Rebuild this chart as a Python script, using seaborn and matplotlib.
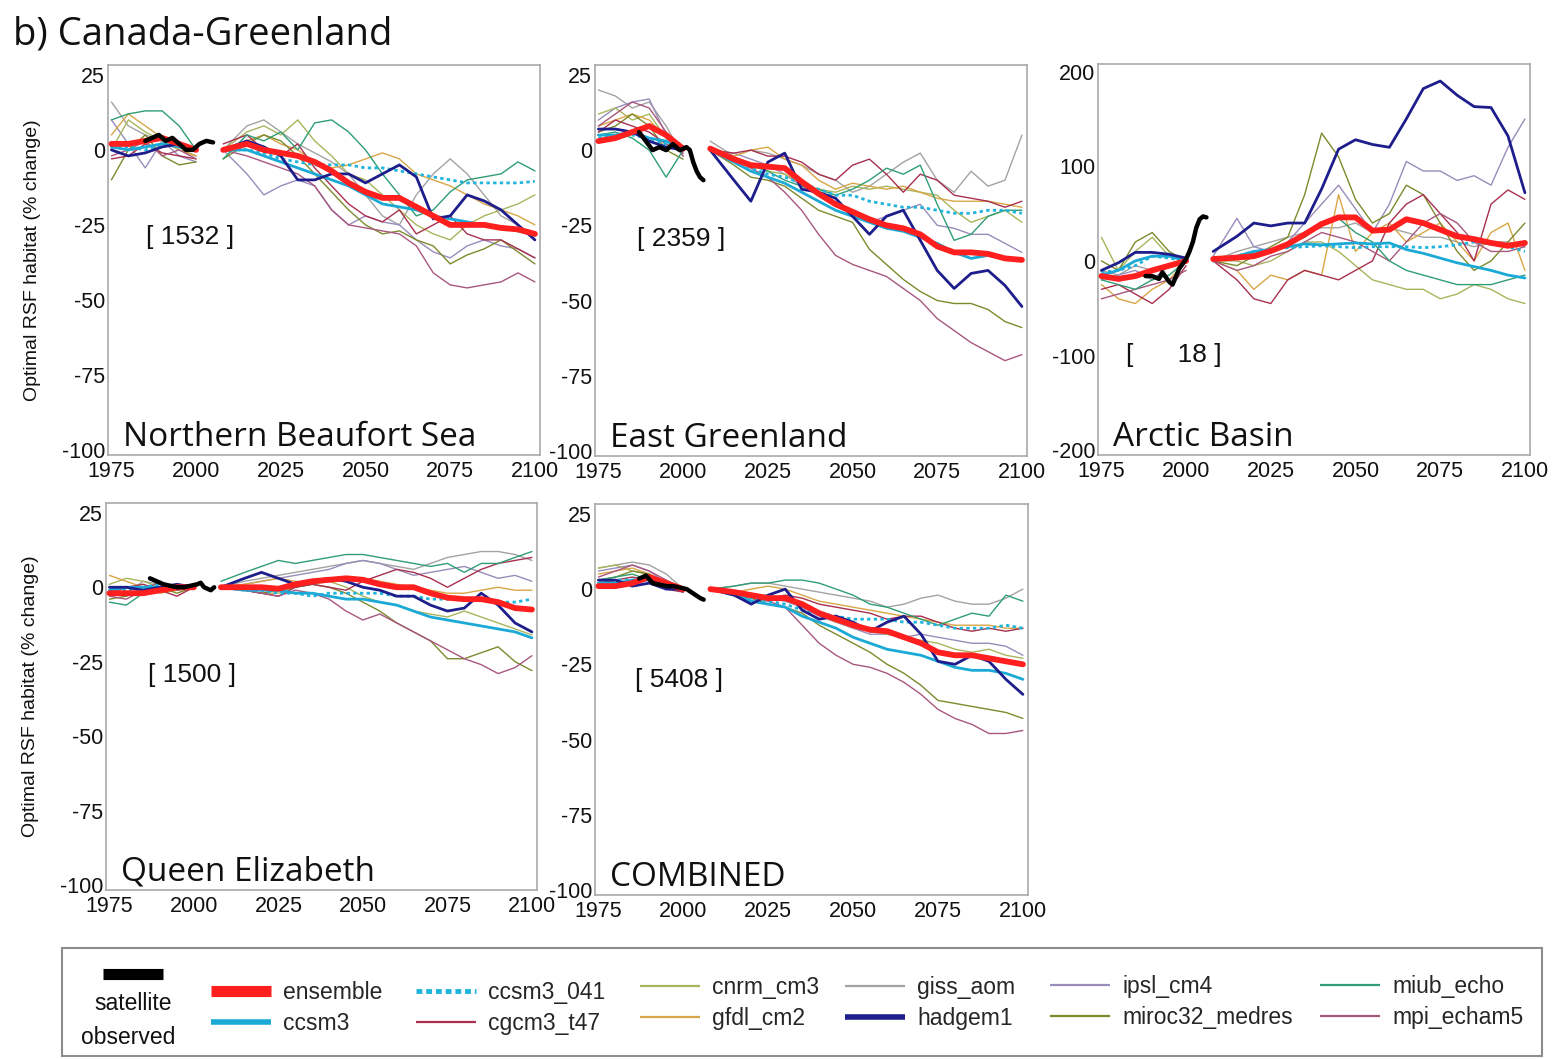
import matplotlib
matplotlib.use("Agg")
import matplotlib.pyplot as plt
from matplotlib.lines import Line2D
from matplotlib.patches import Rectangle
import seaborn as sns

sns.set_theme(style="white")
plt.rcParams["font.family"] = ["Liberation Sans", "DejaVu Sans"]
plt.rcParams["axes.unicode_minus"] = False

# ---------------------------------------------------------------------------
# data (% change in optimal RSF habitat)
# ---------------------------------------------------------------------------
hist_years = [1975, 1980, 1985, 1990, 1995, 2000]
proj_years = [2008, 2015, 2020, 2025, 2030, 2035, 2040, 2045, 2050, 2055,
              2060, 2065, 2070, 2075, 2080, 2085, 2090, 2095, 2100]

models = ["ensemble", "ccsm3", "ccsm3_041", "cgcm3_t47", "cnrm_cm3", "gfdl_cm2",
          "giss_aom", "hadgem1", "ipsl_cm4", "miroc32_medres", "miub_echo", "mpi_echam5"]

# Northern Beaufort Sea
nbs_hist = {
    "ensemble": [2, 2, 3, 4, 2, 0],
    "ccsm3": [1, 0, 1, 2, 1, 0],
    "ccsm3_041": [1, 1, 0, 2, 1, 0],
    "cgcm3_t47": [-3, -2, 2, -1, -2, -3],
    "cnrm_cm3": [0, 10, 6, 3, 0, -2],
    "gfdl_cm2": [5, 12, 8, 4, 0, -2],
    "giss_aom": [16, 8, 5, 3, 0, -2],
    "hadgem1": [0, -2, -1, 1, 2, 0],
    "ipsl_cm4": [10, 2, -6, 3, -2, -4],
    "miroc32_medres": [-10, 0, 5, -2, -5, -4],
    "miub_echo": [10, 12, 13, 13, 8, 0],
    "mpi_echam5": [-2, 0, 3, -2, 0, -3],
}
nbs_proj = {
    "ensemble": [0, 2, 0, -1, -2, -4, -7, -11, -14, -16, -16, -19, -22, -25, -25, -25, -26, -26.5, -28],
    "ccsm3": [0, 0, -2, -4, -6, -8, -10, -12, -15, -18, -19, -20, -22, -23, -24, -25, -26, -27, -28.5],
    "ccsm3_041": [0, 0, -1, -3, -4, -5, -5, -5, -6, -6, -7, -8, -9, -10, -11, -11, -11, -11, -10.5],
    "cgcm3_t47": [2, 5, 0, -2, 2, -6, -12, -18, -22, -24, -20, -28, -25, -22, -28, -30, -30, -33, -36],
    "cnrm_cm3": [0, 6, 8, 5, 10, 3, -2, -8, -10, -15, -20, -25, -28, -30, -25, -22, -20, -18, -15],
    "gfdl_cm2": [0, 3, 5, 2, 0, -4, -6, -5, -3, -1, -3, -8, -10, -12, -15, -18, -20, -22, -25],
    "giss_aom": [0, 8, 10, 6, 2, -1, -4, -8, -15, -22, -25, -15, -8, -3, -8, -15, -22, -25, -30],
    "hadgem1": [0, 3, 1, -2, -10, -10, -8, -8, -11, -8, -5, -9, -23, -22, -15, -17, -20, -25, -30],
    "ipsl_cm4": [0, -8, -15, -12, -10, -12, -20, -25, -22, -24, -25, -30, -34, -36, -32, -30, -32, -33, -36],
    "miroc32_medres": [-3, 2, 5, 3, -2, -8, -14, -20, -25, -28, -27, -30, -32, -38, -35, -33, -30, -34, -38],
    "miub_echo": [-3, 5, 3, 6, 0, 9, 10, 6, 0, -8, -15, -22, -20, -14, -10, -9, -8, -4, -7],
    "mpi_echam5": [0, -2, -4, -6, -8, -12, -20, -25, -26, -27, -28, -32, -41, -45, -46, -45, -44, -41, -44],
}
nbs_sat_years = [1985, 1987, 1989, 1991, 1993, 1995, 1997, 1999, 2001, 2003, 2005]
nbs_sat_vals = [3, 4, 5, 3, 4, 2, 0, 0, 2, 3, 2.5]

# East Greenland
eg_hist = {
    "ensemble": [3, 4, 6, 8, 5, 0.5],
    "ccsm3": [5, 5, 6, 4, 3, 0],
    "ccsm3_041": [4, 5, 5, 4, 2, 0],
    "cgcm3_t47": [6, 10, 8, 6, 2, -1],
    "cnrm_cm3": [12, 14, 10, 12, 4, 0],
    "gfdl_cm2": [8, 10, 12, 10, 4, 0],
    "giss_aom": [20, 18, 14, 16, 8, -2],
    "hadgem1": [7, 7, 6, 3, 1, 0],
    "ipsl_cm4": [10, 14, 16, 17, 5, 0],
    "miroc32_medres": [6, 8, 12, 8, 0, -3],
    "miub_echo": [5, 6, 4, 0, -9, 0],
    "mpi_echam5": [8, 12, 16, 14, 6, -2],
}
eg_proj = {
    "ensemble": [0.5, -3, -5, -5.5, -6, -10.5, -14.5, -18, -20.5, -23, -25, -26, -28, -32, -34, -34, -34.5, -36, -36.5],
    "ccsm3": [0, -4, -7, -9, -11, -14, -17, -20, -22, -24, -26, -27, -29, -31, -34, -36, -35, -36, -36],
    "ccsm3_041": [0, -3, -6, -8, -9, -11, -13, -15, -15, -17, -18, -19, -19, -20, -21, -21, -20, -20, -21],
    "cgcm3_t47": [0, -1, 0, -2, -2, -4, -8, -10, -5, -3, -8, -14, -8, -10, -15, -16, -17, -19, -17],
    "cnrm_cm3": [0, -3, -5, -7, -8, -11, -13, -14, -12, -13, -12, -13, -14, -15, -20, -24, -22, -20, -24],
    "gfdl_cm2": [0, -2, 0, 1, -3, -5, -10, -13, -11, -12, -13, -12, -14, -16, -17, -17, -17, -18, -19],
    "giss_aom": [3, -2, 0, -1, -3, -5, -8, -10, -14, -12, -8, -4, -1, -10, -14, -7, -12, -10, 5],
    "hadgem1": [0, -10, -17, -4, -1, -13, -14, -16, -22, -28, -22, -20, -30, -40, -46, -41, -40, -45, -52],
    "ipsl_cm4": [0, -1, -3, -5, -8, -12, -15, -18, -22, -24, -22, -20, -18, -25, -26, -28, -28, -31, -34],
    "miroc32_medres": [0, -5, -9, -10, -12, -16, -20, -22, -24, -33, -38, -43, -47, -50, -51, -51, -53, -57, -59],
    "miub_echo": [0, -3, -5, -7, -10, -12, -13, -15, -13, -10, -6, -8, -5, -18, -30, -28, -22, -20, -20],
    "mpi_echam5": [0, -3, -6, -9, -14, -20, -28, -35, -38, -40, -42, -46, -50, -56, -60, -64, -67, -70, -68],
}
eg_sat_years = [1987, 1989, 1991, 1993, 1995, 1997, 1999, 2001, 2002, 2003, 2004, 2005, 2006]
eg_sat_vals = [6, 3, 0, 1, 0, 2, 0, 1, 0, -4, -7, -9, -10]

# Arctic Basin
ab_hist = {
    "ensemble": [-16, -19, -16, -10, -5, 0],
    "ccsm3": [-15, -10, 0, 5, 5, 0],
    "ccsm3_041": [-12, -10, -5, 5, 3, 0],
    "cgcm3_t47": [-30, -25, -35, -45, -30, -5],
    "cnrm_cm3": [25, -10, 10, 25, 5, 0],
    "gfdl_cm2": [-25, -40, -45, -30, -20, 0],
    "giss_aom": [-10, -15, -5, -10, -5, 0],
    "hadgem1": [-10, -2, 9, 9, 7, 3],
    "ipsl_cm4": [-20, -15, -10, -20, -5, 0],
    "miroc32_medres": [0, -10, 20, 30, 10, 0],
    "miub_echo": [-20, -25, -30, -20, -15, 0],
    "mpi_echam5": [-40, -35, -30, -25, -20, -10],
}
ab_proj = {
    "ensemble": [2, 3.5, 5, 10.5, 17.6, 28, 39, 46, 46, 32, 33, 44, 40, 33, 26, 23, 19, 16, 19],
    "ccsm3": [0, 5, 10, 12, 15, 18, 17, 18, 19, 18, 19, 12, 8, 3, -2, -6, -10, -15, -18],
    "ccsm3_041": [0, 5, 10, 12, 14, 15, 16, 15, 14, 15, 15, 15, 14, 15, 17, 20, 18, 15, 10],
    "cgcm3_t47": [0, -20, -40, -45, -20, -10, -15, -20, -10, 0, 40, 60, 70, 50, 30, 0, 60, 75, 65],
    "cnrm_cm3": [0, 0, -5, 0, 10, 20, 20, 10, -5, -20, -25, -30, -30, -40, -35, -25, -30, -40, -45],
    "gfdl_cm2": [0, -10, -30, -15, -20, -10, -15, 70, 10, 30, 40, 20, 30, 40, 20, 0, 30, 40, -10],
    "giss_aom": [0, 10, 15, 20, 25, 30, 35, 35, 40, 30, 35, 30, 25, 25, 20, 15, 20, 20, 15],
    "hadgem1": [10, 26, 40, 37, 40, 40, 76, 118, 128, 123, 120, 150, 182, 190, 175, 163, 162, 132, 72],
    "ipsl_cm4": [5, 45, 15, 10, 20, 40, 60, 80, 55, 30, 60, 105, 95, 95, 85, 90, 80, 120, 150],
    "miroc32_medres": [0, -5, 5, 15, 25, 70, 135, 110, 65, 40, 50, 80, 70, 40, 10, -10, 0, 20, 40],
    "miub_echo": [0, 5, 8, 12, 18, 25, 40, 45, 30, 20, 0, -10, -15, -20, -25, -25, -25, -20, -15],
    "mpi_echam5": [0, -10, -5, 5, 10, 20, 30, 25, 20, 10, 0, 20, 40, 50, 40, 20, 10, 10, 15],
}
ab_sat_years = [1988, 1990, 1992, 1993, 1995, 1996, 1998, 2000, 2001, 2002, 2003, 2004, 2005, 2006]
ab_sat_vals = [-16, -16, -19, -12, -22, -25, -8, 2, 10, 20, 35, 44, 47, 46]

# Queen Elizabeth
qe_hist = {
    "ensemble": [-2, -2, -2, -1, 0, 0],
    "ccsm3": [-1, 0, 0, 0, 0, 0],
    "ccsm3_041": [0, -1, 0, 1, 0, 0],
    "cgcm3_t47": [-2, 0, 1, -1, -3, 0],
    "cnrm_cm3": [1, 3, 2, 0, -1, 0],
    "gfdl_cm2": [4, 2, 0, -2, -1, 0],
    "giss_aom": [0, -2, 2, 1, -1, 0],
    "hadgem1": [0, 0, -1, 0, 1, 0],
    "ipsl_cm4": [-2, -3, 0, 1, 0, 0],
    "miroc32_medres": [-4, -3, -1, 0, -2, 0],
    "miub_echo": [-5, -6, -2, -1, 0, 0],
    "mpi_echam5": [-3, -4, -1, 2, -1, 0],
}
qe_proj = {
    "ensemble": [0, 0, 0, -0.5, 1, 2, 2.5, 3, 2.5, 1, 0, 0, -2, -3.5, -4, -4, -5, -7, -7.5],
    "ccsm3": [0, -1, -1, -1, -2, -2, -3, -4, -4, -5, -6, -8, -10, -11, -12, -13, -14, -15, -17],
    "ccsm3_041": [0, -1, -1, -2, -2, -3, -2, -2, -2, -2, -3, -3, -4, -4, -4, -4, -5, -5, -4],
    "cgcm3_t47": [0, -1, -2, -3, 0, 1, 0, -1, 2, 4, 6, 5, 3, 0, 3, 6, 8, 9, 10],
    "cnrm_cm3": [0, -1, -2, -2, 0, 1, 2, 0, -3, -5, -6, -8, -9, -10, -8, -10, -12, -14, -16],
    "gfdl_cm2": [0, 1, 2, 3, 2, 1, 3, 2, 3, 2, 1, 0, -1, -2, -2, -1, 0, -1, -1],
    "giss_aom": [0, 2, 3, 4, 5, 6, 7, 8, 9, 8, 7, 6, 8, 10, 11, 12, 12, 11, 9],
    "hadgem1": [0, 3, 5, 3, 1, 2, 3, 2, 0, -1, -3, -3, -6, -8, -7, -2, -6, -12, -15],
    "ipsl_cm4": [0, 1, 2, 3, 4, 5, 6, 8, 9, 8, 6, 4, 5, 6, 7, 5, 3, 4, 2],
    "miroc32_medres": [0, -1, -2, -1, 0, 1, 0, -2, -5, -8, -12, -15, -18, -24, -24, -22, -20, -25, -28],
    "miub_echo": [2, 5, 7, 9, 8, 9, 10, 11, 11, 10, 9, 8, 7, 8, 5, 8, 8, 10, 12],
    "mpi_echam5": [0, -1, -2, -3, -1, -2, -4, -8, -11, -9, -12, -15, -18, -21, -24, -26, -29, -27, -23],
}
qe_sat_years = [1987, 1989, 1991, 1993, 1995, 1997, 1999, 2001, 2002, 2003, 2004, 2005, 2006]
qe_sat_vals = [3, 2, 1, 0.5, 0, 0, 0.5, 1, 1.5, 0, -0.5, -1, 0]

# COMBINED
cb_hist = {
    "ensemble": [1, 1, 2, 4, 2, 0],
    "ccsm3": [2, 2, 3, 3, 1, 0],
    "ccsm3_041": [2, 3, 3, 4, 1, 0],
    "cgcm3_t47": [2, 3, 4, 3, 0, -1],
    "cnrm_cm3": [7, 8, 6, 5, 2, 0],
    "gfdl_cm2": [5, 6, 7, 5, 2, 0],
    "giss_aom": [7, 8, 9, 8, 5, 0],
    "hadgem1": [3, 3, 1, 2, 0, 0],
    "ipsl_cm4": [6, 7, 8, 6, 2, -1],
    "miroc32_medres": [3, 4, 6, 5, 1, -1],
    "miub_echo": [3, 4, 5, 3, 0, 0],
    "mpi_echam5": [4, 6, 8, 6, 3, 0],
}
cb_proj = {
    "ensemble": [0, -1, -2, -3, -3, -5, -8, -10, -12, -13.5, -14, -16, -18, -21, -22, -22, -23, -24, -25],
    "ccsm3": [0, -2, -4, -5, -6, -9, -11, -13, -16, -18, -20, -21, -22, -24, -26, -27, -27, -28, -30],
    "ccsm3_041": [0, -2, -3, -4, -5, -7, -8, -9, -10, -10, -10, -11, -11, -12, -13, -13, -13, -12, -13],
    "cgcm3_t47": [0, -1, -2, -3, -2, -3, -5, -6, -7, -8, -10, -9, -9, -11, -13, -14, -13, -14, -13],
    "cnrm_cm3": [0, -1, -2, -2, -3, -5, -8, -11, -12, -14, -15, -16, -17, -18, -20, -21, -20, -22, -23],
    "gfdl_cm2": [0, -1, 0, 1, 0, -2, -4, -5, -6, -7, -8, -9, -10, -11, -12, -12, -12, -13, -13],
    "giss_aom": [0, 1, 2, 2, 1, 0, -1, -2, -3, -4, -6, -5, -3, -2, -4, -5, -5, -3, 0],
    "hadgem1": [0, -2, -5, -2, 0, -7, -10, -9, -11, -14, -11, -9, -15, -24, -25, -22, -24, -30, -35],
    "ipsl_cm4": [0, -1, -2, -3, -4, -6, -9, -11, -13, -15, -15, -16, -15, -16, -17, -18, -18, -19, -22],
    "miroc32_medres": [0, -2, -3, -5, -6, -8, -12, -15, -18, -21, -25, -28, -32, -37, -38, -39, -40, -41, -43],
    "miub_echo": [0, 1, 2, 2, 3, 3, 2, 0, -2, -5, -6, -8, -10, -12, -10, -8, -9, -2, -4],
    "mpi_echam5": [0, -2, -3, -4, -6, -12, -18, -22, -25, -26, -28, -31, -35, -40, -43, -45, -48, -48, -47],
}
cb_sat_years = [1987, 1989, 1991, 1993, 1995, 1997, 1999, 2001, 2003, 2005, 2006]
cb_sat_vals = [3.5, 4.5, 2, 1.5, 1, 1, 0.5, 0, -1.5, -3, -3.5]

# ---------------------------------------------------------------------------
# styles
# ---------------------------------------------------------------------------
colors = {
    "ensemble": "#ff1f1f", "ccsm3": "#1ba9d6", "ccsm3_041": "#1fb4dc",
    "cgcm3_t47": "#a8304e", "cnrm_cm3": "#a9b55c", "gfdl_cm2": "#d8a646",
    "giss_aom": "#a3a3a3", "hadgem1": "#1d1d8c", "ipsl_cm4": "#9a8cba",
    "miroc32_medres": "#7d8a2c", "miub_echo": "#2f9e74", "mpi_echam5": "#a8577f",
}
widths = {"ensemble": 4.2, "ccsm3": 2.0, "ccsm3_041": 2.0, "hadgem1": 2.0}
styles = {"ccsm3_041": (0, (1.2, 1.2))}
# thin models first, highlighted ones last
draw_order = ["giss_aom", "ipsl_cm4", "cnrm_cm3", "gfdl_cm2", "miroc32_medres",
              "cgcm3_t47", "mpi_echam5", "miub_echo", "ccsm3_041", "ccsm3",
              "hadgem1", "ensemble"]

W, H = 1552, 1059


def px_rect(l, t, r, b):
    return [l / W, 1 - b / H, (r - l) / W, (b - t) / H]


panels = [
    dict(rect=(108, 65, 540, 455), hist=nbs_hist, proj=nbs_proj, sy=nbs_sat_years, sv=nbs_sat_vals,
         name="Northern Beaufort Sea", count="[ 1532 ]", cpos=(0.19, 0.56), big=False, ylab=True),
    dict(rect=(595, 65, 1027, 456), hist=eg_hist, proj=eg_proj, sy=eg_sat_years, sv=eg_sat_vals,
         name="East Greenland", count="[ 2359 ]", cpos=(0.2, 0.555), big=False, ylab=False),
    dict(rect=(1098, 64, 1530, 455), hist=ab_hist, proj=ab_proj, sy=ab_sat_years, sv=ab_sat_vals,
         name="Arctic Basin", count="[      18 ]", cpos=(0.175, 0.255), big=True, ylab=False),
    dict(rect=(106, 503, 537, 890), hist=qe_hist, proj=qe_proj, sy=qe_sat_years, sv=qe_sat_vals,
         name="Queen Elizabeth", count="[ 1500 ]", cpos=(0.2, 0.555), big=False, ylab=True),
    dict(rect=(595, 504, 1028, 895), hist=cb_hist, proj=cb_proj, sy=cb_sat_years, sv=cb_sat_vals,
         name="COMBINED", count="[ 5408 ]", cpos=(0.195, 0.55), big=False, ylab=False),
]

fig = plt.figure(figsize=(W / 100, H / 100), dpi=100)

for p in panels:
    ax = fig.add_axes(px_rect(*p["rect"]))
    for years, seg in [(hist_years, p["hist"]), (proj_years, p["proj"])]:
        for i, m in enumerate(draw_order):
            sns.lineplot(x=years, y=seg[m], ax=ax, color=colors[m],
                         lw=widths.get(m, 1.0), linestyle=styles.get(m, "-"),
                         estimator=None, sort=False, zorder=2 + i, legend=False)
    sns.lineplot(x=p["sy"], y=p["sv"], ax=ax, color="black", lw=3.2,
                 estimator=None, sort=False, zorder=30, legend=False)

    ax.set_xlim(1974, 2101.5)
    ax.set_xticks([1975, 2000, 2025, 2050, 2075, 2100])
    if p["big"]:
        ax.set_ylim(-205, 208)
        ax.set_yticks([200, 100, 0, -100, -200])
    else:
        ax.set_ylim(-101.7, 28.3)
        ax.set_yticks([25, 0, -25, -50, -75, -100])
    ax.tick_params(axis="both", length=0, labelsize=15.5, colors="#111111")
    ax.tick_params(axis="y", pad=2)
    ax.tick_params(axis="x", pad=4)
    ax.set_xlabel("")
    for sp in ax.spines.values():
        sp.set_color("#a9a9a9")
        sp.set_linewidth(1.2)
    if p["ylab"]:
        ax.set_ylabel("Optimal RSF habitat (% change)", fontsize=14, color="#111111")
        ax.yaxis.set_label_coords(-0.155, 0.5)
    else:
        ax.set_ylabel("")

    ax.text(0.035, 0.024, p["name"], transform=ax.transAxes, fontsize=24,
            family=["Open Sans", "DejaVu Sans"], color="#111111", va="baseline", zorder=40)
    ax.text(p["cpos"][0], p["cpos"][1], p["count"], transform=ax.transAxes,
            fontsize=19, color="#111111", ha="center", va="center", zorder=40)

fig.text(13 / W, 1 - 45 / H, "b) Canada-Greenland", fontsize=27.5,
         family=["Open Sans", "DejaVu Sans"], color="#111111", va="baseline")

# ---------------------------------------------------------------------------
# legend box
# ---------------------------------------------------------------------------
fig.add_artist(Rectangle((62 / W, 1 - 1056 / H), (1542 - 62) / W, (1056 - 948) / H,
                         transform=fig.transFigure, fill=False, edgecolor="#8c8c8c", lw=1.5))

sat_handle = Line2D([], [], color="black", lw=8, solid_capstyle="butt")
fig.legend([sat_handle], [""], loc="center left", bbox_to_anchor=(103 / W, 1 - 976 / H),
           frameon=False, fontsize=16.5, handlelength=2.6, borderpad=0, borderaxespad=0,
           handletextpad=0)
fig.text(133 / W, 1 - 1004 / H, "satellite", fontsize=16.5, ha="center", va="center", color="#111111")
fig.text(128 / W, 1 - 1037 / H, "observed", fontsize=16.5, ha="center", va="center", color="#111111")

legend_cols = [
    (211, 1008, ["ensemble", "ccsm3"]),
    (416, 1008, ["ccsm3_041", "cgcm3_t47"]),
    (640, 1003, ["cnrm_cm3", "gfdl_cm2"]),
    (845, 1003, ["giss_aom", "hadgem1"]),
    (1050, 1002, ["ipsl_cm4", "miroc32_medres"]),
    (1320, 1002, ["miub_echo", "mpi_echam5"]),
]
handle_widths = {"ensemble": 8, "ccsm3": 4, "ccsm3_041": 3.5, "hadgem1": 4}
for x, y, names in legend_cols:
    handles = [Line2D([], [], color=colors[n], lw=handle_widths.get(n, 1.6),
                      linestyle=(0, (1.2, 0.8)) if n == "ccsm3_041" else "-",
                      solid_capstyle="butt", dash_capstyle="butt") for n in names]
    fig.legend(handles, names, loc="center left", bbox_to_anchor=(x / W, 1 - y / H),
               frameon=False, fontsize=16.5, handlelength=2.6, handletextpad=0.55,
               labelspacing=0.32, borderpad=0, borderaxespad=0)

fig.savefig("out.png", dpi=100)
